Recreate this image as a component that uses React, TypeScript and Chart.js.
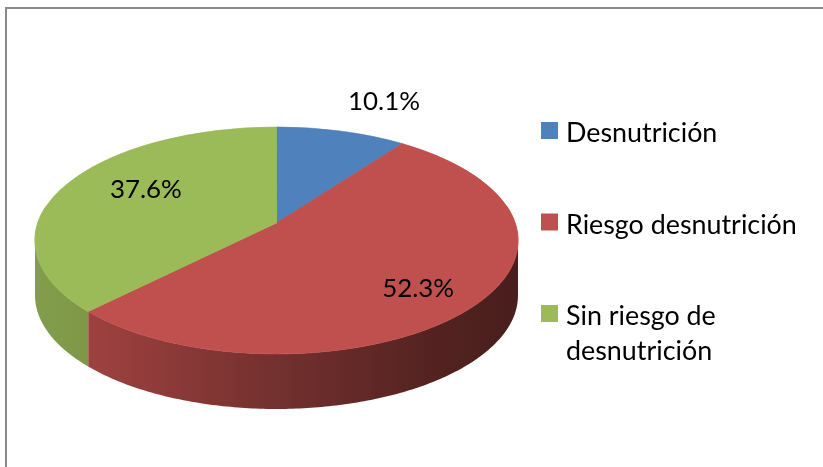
import React, { useEffect, useRef } from "react";
import { Chart, registerables } from "chart.js";

Chart.register(...registerables);

// ---- data ----
const categories = ["Desnutrición", "Riesgo desnutrición", "Sin riesgo de desnutrición"];
const percentages = [10.1, 52.3, 37.6];
const percentLabels = ["10.1%", "52.3%", "37.6%"];
const sliceColors = ["#4F81BD", "#C0504D", "#9BBB59"];

// ---- layout / style ----
const W = 823;
const H = 467;
// perspective view of the pie's top face: centre, half-axes, perspective factor, side depth
const VIEW = { cx: 276.5, cy: 223, A: 238.6, B: 110.8, k: 0.154, depth: 55 };
// per-slice label placement (fractions of radius along the mid-angle, in pie plane)
const LABEL_FRAC = [
  [1.739, 1.396],
  [0.716, 0.827],
  [0.622, 0.873],
];
const FONT_FAMILY = "Lato, 'Open Sans', 'DejaVu Sans', sans-serif";
const LEGEND = { squareX: 541, textX: 566, firstBaseline: 142, itemGap: 91.5, lineHeight: 35, square: 17, maxWidth: 245 };

function project(u: number, v: number) {
  const w = 1 - VIEW.k * v;
  return [VIEW.cx + (VIEW.A * u) / w, VIEW.cy + (VIEW.B * v) / w];
}

function hexToRgb(h: string) {
  const n = parseInt(h.slice(1), 16);
  return [(n >> 16) & 255, (n >> 8) & 255, n & 255];
}
function shade(h: string, f: number) {
  const [r, g, b] = hexToRgb(h);
  return `rgb(${Math.round(r * f)},${Math.round(g * f)},${Math.round(b * f)})`;
}

function fitFont(ctx: CanvasRenderingContext2D, text: string, target: number) {
  ctx.font = `100px ${FONT_FAMILY}`;
  const w = ctx.measureText(text).width;
  return (100 * target) / w;
}

function wrap(ctx: CanvasRenderingContext2D, text: string, maxWidth: number) {
  const words = text.split(" ");
  const lines: string[] = [];
  let cur = "";
  for (const w of words) {
    const t = cur ? cur + " " + w : w;
    if (ctx.measureText(t).width > maxWidth && cur) {
      lines.push(cur);
      cur = w;
    } else cur = t;
  }
  if (cur) lines.push(cur);
  return lines;
}

const pie3d = {
  id: "pie3d",
  beforeDatasetsDraw(chart: any) {
    const ctx: CanvasRenderingContext2D = chart.ctx;
    const meta = chart.getDatasetMeta(0);
    const arcs = meta.data;
    const { cx, cy, A, B, k, depth } = VIEW;
    const tw = Math.asin(k);
    const visLo = tw;
    const visHi = Math.PI - tw;

    // ---- sides (front, visible part of the rim) ----
    arcs.forEach((arc: any, i: number) => {
      const { startAngle, endAngle } = arc.getProps(["startAngle", "endAngle"], true);
      const base = chart.data.datasets[0].backgroundColor[i];
      for (const off of [0, 2 * Math.PI, -2 * Math.PI]) {
        const s = Math.max(startAngle, visLo + off);
        const e = Math.min(endAngle, visHi + off);
        if (e <= s) continue;
        const n = Math.max(8, Math.ceil(((e - s) / Math.PI) * 240));
        const pts: number[][] = [];
        for (let j = 0; j <= n; j++) {
          const t = s + ((e - s) * j) / n;
          pts.push(project(Math.cos(t), Math.sin(t)));
        }
        ctx.save();
        ctx.beginPath();
        pts.forEach((p, j) => (j ? ctx.lineTo(p[0], p[1]) : ctx.moveTo(p[0], p[1])));
        for (let j = pts.length - 1; j >= 0; j--) ctx.lineTo(pts[j][0], pts[j][1] + depth);
        ctx.closePath();
        const left = cx - A * 1.012;
        const right = cx + A * 1.012;
        const g = ctx.createLinearGradient(left, 0, right, 0);
        g.addColorStop(0, shade(base, 0.84));
        g.addColorStop(0.15, shade(base, 0.8));
        g.addColorStop(0.5, shade(base, 0.6));
        g.addColorStop(0.85, shade(base, 0.42));
        g.addColorStop(1, shade(base, 0.38));
        ctx.fillStyle = g;
        ctx.fill();
        ctx.restore();
      }
    });

    // ---- top face: library arcs drawn row by row under the perspective's local affine map ----
    const a0 = arcs[0];
    const R = a0.outerRadius;
    const ax = a0.x;
    const ay = a0.y;
    const yTop = Math.floor(cy - B / (1 + k)) - 2;
    const yBot = Math.ceil(cy + B / (1 - k)) + 2;
    for (let Y = yTop; Y < yBot; Y++) {
      const Yc = Y + 0.5;
      const d = Yc - cy;
      const v = d / (B + k * d);
      const w = 1 - k * v;
      const sx = A / w;
      const sy = B / (w * w);
      ctx.save();
      ctx.setTransform(1, 0, 0, 1, 0, 0);
      ctx.beginPath();
      ctx.rect(0, Y, W, 1);
      ctx.clip();
      ctx.setTransform(sx / R, 0, 0, sy / R, cx - (sx / R) * ax, Yc - sy * v - (sy / R) * ay);
      arcs.forEach((arc: any) => arc.draw(ctx));
      ctx.restore();
    }
    return false;
  },
  afterDraw(chart: any) {
    const ctx: CanvasRenderingContext2D = chart.ctx;
    const meta = chart.getDatasetMeta(0);
    ctx.save();
    // percentage labels
    const pSize = fitFont(ctx, "52.3%", 72);
    ctx.font = `${pSize}px ${FONT_FAMILY}`;
    ctx.fillStyle = "#000";
    ctx.textAlign = "center";
    ctx.textBaseline = "alphabetic";
    meta.data.forEach((arc: any, i: number) => {
      const { startAngle, endAngle } = arc.getProps(["startAngle", "endAngle"], true);
      const mid = (startAngle + endAngle) / 2;
      const [fx, fy] = LABEL_FRAC[i];
      const [x, y] = project(fx * Math.cos(mid), fy * Math.sin(mid));
      ctx.fillText(percentLabels[i], x, y + 9.5);
    });
    // legend
    const lSize = fitFont(ctx, "Riesgo desnutrición", 231);
    ctx.font = `${lSize}px ${FONT_FAMILY}`;
    ctx.textAlign = "left";
    categories.forEach((label, i) => {
      const baseline = LEGEND.firstBaseline + i * LEGEND.itemGap;
      ctx.fillStyle = sliceColors[i];
      ctx.fillRect(LEGEND.squareX, baseline - 20, LEGEND.square, LEGEND.square);
      ctx.fillStyle = "#000";
      const lines = wrap(ctx, label, LEGEND.maxWidth);
      lines.forEach((ln, j) => ctx.fillText(ln, LEGEND.textX, baseline + j * LEGEND.lineHeight));
    });
    ctx.restore();
  },
};

export default function App() {
  const ref = useRef<HTMLCanvasElement | null>(null);
  useEffect(() => {
    if (!ref.current) return;
    const chart = new Chart(ref.current, {
      type: "pie",
      data: {
        labels: categories,
        datasets: [
          {
            data: percentages,
            backgroundColor: sliceColors,
            borderColor: sliceColors,
            borderWidth: 1,
          },
        ],
      },
      options: {
        responsive: false,
        animation: false,
        layout: { padding: { left: 0, right: W - H, top: 0, bottom: 0 } },
        plugins: {
          legend: { display: false },
          tooltip: { enabled: false },
        },
        events: [],
      },
      plugins: [pie3d],
    });
    return () => chart.destroy();
  }, []);
  return (
    <div style={{ position: "fixed", left: 0, top: 0, width: W, height: H, background: "#fff", overflow: "hidden" }}>
      <canvas ref={ref} width={W} height={H} style={{ position: "absolute", left: 0, top: 0, width: W, height: H }} />
      <div
        style={{
          position: "absolute",
          left: 5,
          top: 7,
          width: 900,
          height: 600,
          borderLeft: "2px solid #8a8a8a",
          borderTop: "2px solid #8a8a8a",
          pointerEvents: "none",
        }}
      />
    </div>
  );
}
